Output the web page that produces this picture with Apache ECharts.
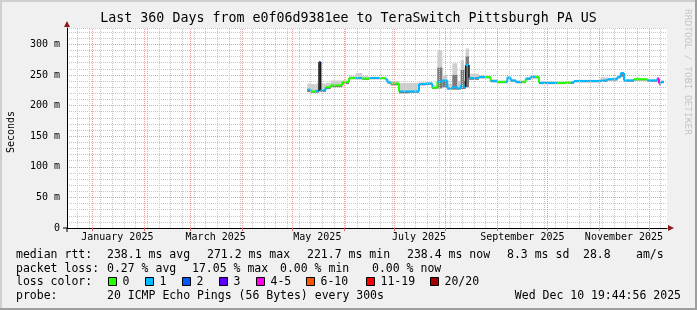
<!DOCTYPE html>
<html><head><meta charset="utf-8">
<script src="https://cdn.jsdelivr.net/npm/echarts@6/dist/echarts.min.js"></script>
<style>html,body{margin:0;padding:0;background:#f0f0f0}#c{width:697px;height:310px}</style>
</head><body><div id="c"></div>
<script>
// ================= DATA =================
const chartTitle = 'Last 360 Days from e0f06d9381ee to TeraSwitch Pittsburgh PA US';
// sample dates (each value holds until the next date)
const dates = ['2025-05-10','2025-05-12','2025-05-15','2025-05-17','2025-05-18','2025-05-21','2025-05-24','2025-05-31',
  '2025-06-04','2025-06-08','2025-06-12','2025-06-16','2025-06-22','2025-06-26','2025-06-27','2025-06-29',
  '2025-07-04','2025-07-10','2025-07-16','2025-07-20','2025-07-24','2025-07-27','2025-07-30',
  '2025-08-02','2025-08-05','2025-08-08','2025-08-10','2025-08-12','2025-08-13','2025-08-15','2025-08-21','2025-08-25','2025-08-28',
  '2025-09-01','2025-09-06','2025-09-07','2025-09-09','2025-09-12','2025-09-16','2025-09-18','2025-09-21','2025-09-24','2025-09-26',
  '2025-10-07','2025-10-12','2025-10-15','2025-10-17',
  '2025-11-02','2025-11-06','2025-11-12','2025-11-14','2025-11-16','2025-11-22','2025-11-30',
  '2025-12-05','2025-12-06','2025-12-07','2025-12-08'];
const dataEnd = '2025-12-10';
// median rtt (ms)
const median = [226,223,224,271,225,230,233,238.6,
  245,245,244,245,245,243,238,236,
  223,223,235,236,229,239,241,
  228,230,228,233,230,266,245,246.7,246.5,240,
  238.6,238.6,245.7,241,238.6,238.6,244,246.7,246.7,237,
  237,237.5,237.5,240,
  241,243,246.7,253,241,243,241,
  241,244,236,238.6];
// smoke: lowest / highest ping (ms)
const smokeLow = [222,221,221,223,222,227,230,235,
  243,243,242,243,243,241,236,233,
  220,221,233,234,227,228,230,
  226,226,226,227,227,230,242,244.5,244.5,238,
  236.5,236.5,243.5,239,236.5,236.5,242,244.5,244.5,235,
  235,235.5,235.5,238,
  239,241,244.5,247,239,241,239,
  239,241,233,236.5];
const smokeHigh = [236,235,236,273,236,237,241,241,
  248,253,248,247,247,246,241,240,
  237,237,238,238,233,290,250,
  235,269,240,274,260,293,252,249,249,243,
  241,241,248,243,241,241,246,249,249,239,
  239,240,240,242,
  246,245,249,255,243,245,243,
  243,246,240,241];
// dense (dark) smoke top (ms)
const smokeDense = [226,223,224,271,225,230,233,238.6,
  245,245,244,245,245,243,238,236,
  223,223,235,236,229,262,241,
  228,250,228,258,240,280,245,246.7,246.5,240,
  238.6,238.6,245.7,241,238.6,238.6,244,246.7,246.7,237,
  237,237.5,237.5,240,
  241,243,246.7,253,241,243,241,
  241,244,236,238.6];
// packet loss category per sample (index into lossLabels)
const lossIdx = [1,0,1,2,1,0,0,0,
  0,1,0,1,0,1,1,0,
  1,1,1,1,0,1,1,
  1,1,1,1,1,1,1,1,0,1,
  0,1,1,1,1,0,1,1,0,1,
  0,0,1,1,
  1,1,1,1,1,0,1,
  1,4,1,1];
const lossLabels = ['0','1','2','3','4-5','6-10','11-19','20/20'];
const lossColors = ['#26ff00','#00b8ff','#0059ff','#5e00ff','#ff00ea','#ff5500','#ff0000','#a10000'];
// axes
const yMax = 326.6;
const yMajor = 50, yMinor = 10;
const xStart = '2024-12-16T19:12:00Z', xEnd = '2025-12-11T19:12:00Z';
const xLabelDates = ['2025-01-16','2025-03-16','2025-05-16','2025-07-16','2025-09-16','2025-11-16'];
const xLabelTexts = ['January 2025','March 2025','May 2025','July 2025','September 2025','November 2025'];
const monthStarts = ['2025-01-01','2025-02-01','2025-03-01','2025-04-01','2025-05-01','2025-06-01','2025-07-01','2025-08-01','2025-09-01','2025-10-01','2025-11-01','2025-12-01'];
const firstMonday = '2024-12-23', lastMonday = '2025-12-08';
// legend texts
const legendLine1 = [['median rtt:',16],['238.1 ms avg',107],['271.2 ms max',207],['221.7 ms min',307],['238.4 ms now',407],['8.3 ms sd',507],['28.8',583],['am/s',636]];
const legendLine2 = [['packet loss:',16],['0.27 % avg',107],['17.05 % max',192],['0.00 % min',280],['0.00 % now',372]];
const legendBoxX = [108,145,182,219,256,306,366,430];
const probeText = '20 ICMP Echo Pings (56 Bytes) every 300s';
const stampText = 'Wed Dec 10 19:44:56 2025';

// ================= BUILD =================
const DAY = 864e5, T0 = Date.parse('2025-01-01T00:00:00Z');
const dayOf = s => (Date.parse(s.length > 10 ? s : s + 'T00:00:00Z') - T0) / DAY;
const xMin = dayOf(xStart), xMax = dayOf(xEnd);
const X = dates.map(dayOf);
const N = X.length;
const nx = i => i < N - 1 ? X[i + 1] : dayOf(dataEnd);
const smokeData = X.map((x, i) => [x, smokeLow[i], smokeHigh[i], nx(i), smokeDense[i]]);
const medData = X.map((x, i) => [x, median[i], nx(i), i < N - 1 ? median[i + 1] : median[i], lossIdx[i]]);
const monthX = monthStarts.map(dayOf);
const weekX = [];
for (let d = dayOf(firstMonday); d <= dayOf(lastMonday) + 0.01; d += 7) weekX.push(d);
const labelX = xLabelDates.map(dayOf);

const FONT = '"DejaVu Sans Mono", monospace';
const MGRID = '#f09a9a', GRID = '#c8c8c8';

const chart = echarts.init(document.getElementById('c'), null, {renderer: 'canvas'});

const gfx = [];
// frame
gfx.push({type:'rect', shape:{x:0,y:0,width:697,height:2}, style:{fill:'#cfcfcf'}, silent:true});
gfx.push({type:'rect', shape:{x:0,y:0,width:2,height:310}, style:{fill:'#cfcfcf'}, silent:true});
gfx.push({type:'rect', shape:{x:0,y:308,width:697,height:2}, style:{fill:'#9e9e9e'}, silent:true});
gfx.push({type:'rect', shape:{x:695,y:0,width:2,height:310}, style:{fill:'#9e9e9e'}, silent:true});
// axis overhang + arrows
gfx.push({type:'rect', shape:{x:66.5,y:228,width:1,height:4}, style:{fill:'#000'}, silent:true, z:10});
gfx.push({type:'rect', shape:{x:63,y:227.5,width:4,height:1}, style:{fill:'#000'}, silent:true, z:10});
gfx.push({type:'polygon', shape:{points:[[64,27],[70,27],[67,21]]}, style:{fill:'#8b1a1a'}, silent:true, z:10});
gfx.push({type:'polygon', shape:{points:[[668,225],[668,231],[674,228]]}, style:{fill:'#8b1a1a'}, silent:true, z:10});
const txt = (t, x, y, o = {}) => ({type:'text', x, y, rotation:o.rot || 0, silent:true, z:10,
  style:{text:t, fontFamily:FONT, fontSize:o.size || 11.5, fill:o.color || '#000', align:o.align || 'left', verticalAlign:'middle'}});
gfx.push(txt(chartTitle, 348.5, 19, {size:13.3, align:'center'}));
gfx.push(txt('Seconds', 11, 132, {size:10, align:'center', rot:Math.PI / 2}));
gfx.push(txt('RRDTOOL / TOBI OETIKER', 687, 72, {size:9.5, align:'center', rot:-Math.PI / 2, color:'#c4c4c4'}));
legendLine1.forEach(([t, x]) => gfx.push(txt(t, x, 255)));
legendLine2.forEach(([t, x]) => gfx.push(txt(t, x, 269)));
gfx.push(txt('loss color:', 16, 282));
legendBoxX.forEach((bx, i) => {
  gfx.push({type:'rect', shape:{x:bx + 0.5, y:277.5, width:8, height:8}, style:{fill:lossColors[i], stroke:'#000', lineWidth:1}, silent:true, z:10});
  gfx.push(txt(lossLabels[i], bx + 14.5, 282));
});
gfx.push(txt('probe:', 16, 296));
gfx.push(txt(probeText, 107, 296));
gfx.push(txt(stampText, 681, 296, {align:'right'}));

const gridMarks = [
  ...weekX.map(v => ({xAxis:v, lineStyle:{color:GRID, type:[1,1], width:1}})),
  ...monthX.map(v => ({xAxis:v, lineStyle:{color:MGRID, type:[1,1], width:1}}))
];

chart.setOption({
  animation:false,
  backgroundColor:'#f0f0f0',
  grid:{left:67, right:30, top:28, bottom:82, show:true, backgroundColor:'#ffffff', borderWidth:0},
  xAxis:{type:'value', min:xMin, max:xMax,
    splitLine:{show:false},
    axisLine:{show:true, onZero:false, lineStyle:{color:'#000', width:1}},
    axisTick:{show:true, customValues:monthX, length:3, lineStyle:{color:'#e06060'}},
    axisLabel:{customValues:labelX, fontFamily:FONT, fontSize:10, color:'#000', margin:4,
      formatter:v => { const k = labelX.findIndex(q => Math.abs(q - v) < 0.01); return k >= 0 ? xLabelTexts[k] : ''; }}},
  yAxis:{type:'value', min:0, max:yMax, interval:yMinor,
    axisLine:{show:true, onZero:false, lineStyle:{color:'#000', width:1}},
    axisTick:{show:false},
    splitLine:{show:true, lineStyle:{color:[MGRID, GRID, GRID, GRID, GRID], type:[1,1], width:1}},
    axisLabel:{fontFamily:FONT, fontSize:10, color:'#000', margin:7, showMaxLabel:false,
      formatter:v => (Math.abs(v % yMajor) < 1e-6 && v <= 300) ? (v === 0 ? '0' : v + ' m') : ''}},
  graphic:gfx,
  series:[
    {type:'line', data:[[xMin, null]], z:1, symbol:'none', silent:true, lineStyle:{opacity:0},
      markLine:{silent:true, symbol:['none','none'], label:{show:false}, animation:false, data:gridMarks}},
    {type:'custom', z:2, silent:true, clip:true, data:smokeData, encode:{x:0, y:1},
      renderItem:(p, api) => {
        const x0 = api.value(0), lo = api.value(1), hi = api.value(2), x1 = api.value(3), dn = api.value(4);
        const a = api.coord([x0, hi]), b = api.coord([x1, lo]);
        const ch = [{type:'rect', shape:{x:a[0], y:a[1], width:b[0] - a[0], height:b[1] - a[1]}, style:{fill:'#cfcfcf'}}];
        if (dn > lo) {
          const q = api.coord([x0, dn]);
          ch.push({type:'rect', shape:{x:a[0], y:q[1], width:b[0] - a[0], height:b[1] - q[1]}, style:{fill:'#7a7a7a'}});
        }
        return {type:'group', children:ch};
      }},
    {type:'custom', z:3, silent:true, clip:true, data:medData, encode:{x:0, y:1},
      renderItem:(p, api) => {
        const x0 = api.value(0), m = api.value(1), x1 = api.value(2), m2 = api.value(3), L = api.value(4);
        const a = api.coord([x0, m]), b = api.coord([x1, m]), c = api.coord([x1, m2]);
        const col = lossColors[L];
        const big = Math.abs(m2 - m) > 20;
        return {type:'group', children:[
          {type:'polyline', shape:{points:[a, b]}, style:{stroke:col, lineWidth:2, fill:null}},
          {type:'polyline', shape:{points:[b, c]}, style:{stroke:big ? '#1a1a1a' : col, lineWidth:big ? 1.5 : 2, fill:null}}
        ]};
      }}
  ]
});
</script></body></html>
